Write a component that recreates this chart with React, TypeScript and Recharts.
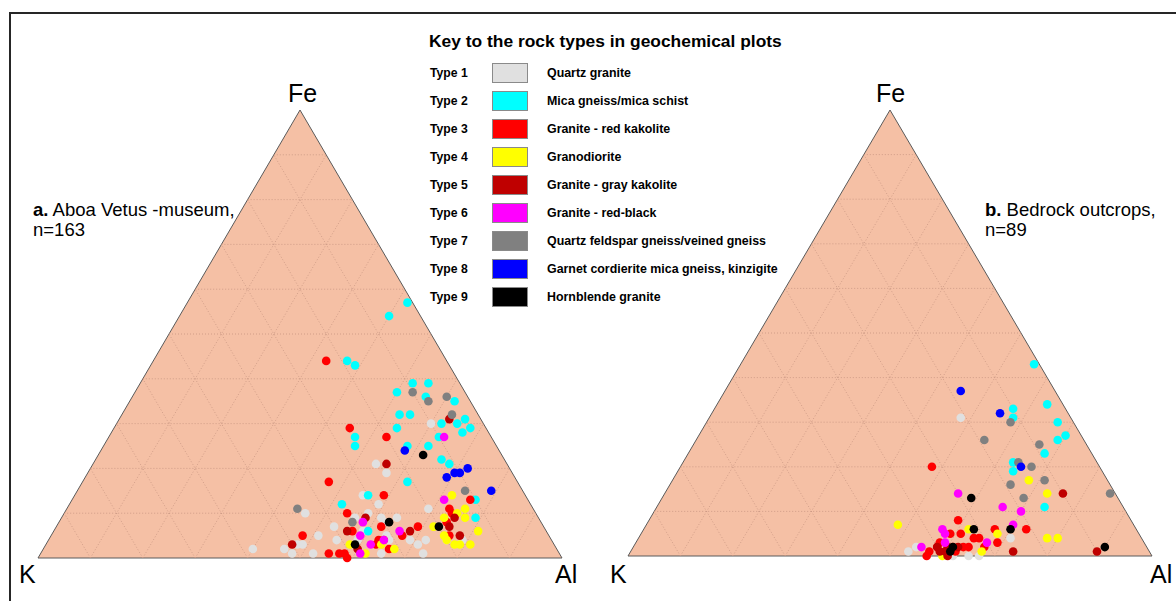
import { ScatterChart, Scatter, XAxis, YAxis, ReferenceArea, ReferenceLine } from 'recharts';

// rock types in key order
const TYPE_LABELS = ['Type 1', 'Type 2', 'Type 3', 'Type 4', 'Type 5', 'Type 6', 'Type 7', 'Type 8', 'Type 9'];
const TYPE_NAMES = [
  'Quartz granite',
  'Mica gneiss/mica schist',
  'Granite - red kakolite',
  'Granodiorite',
  'Granite - gray kakolite',
  'Granite - red-black',
  'Quartz feldspar gneiss/veined gneiss',
  'Garnet cordierite mica gneiss, kinzigite',
  'Hornblende granite',
];
const TYPE_COLORS = ['#e0e0e0', '#00ffff', '#ff0000', '#ffff00', '#bf0000', '#ff00ff', '#808080', '#0000ff', '#000000'];

// samples as [Al %, Fe %] (K = rest)
const A_TYPE1 = [[60, 30], [54, 21], [57, 19], [55, 14], [59, 12], [58, 10], [69, 11], [46, 10], [56, 9], [61, 9], [62, 8], [64, 9], [53, 7], [51, 5], [68, 6], [79, 4], [48, 3], [49, 3], [55, 4], [64, 5], [65, 4], [69, 4], [71, 3], [72, 4], [40, 2], [46, 2], [48, 1], [52, 1], [65, 1], [73, 1], [59, 4], [59, 6], [76, 4]];
const A_TYPE2 = [[42, 57], [40, 54], [37, 44], [39, 43], [52, 39], [55, 39], [50, 37], [56, 36], [62, 35], [53, 32], [55, 32], [54, 29], [62, 30], [65, 30], [66, 31], [68, 29], [67, 28], [47, 27], [48, 25], [63, 27], [58, 25], [62, 25], [66, 22], [68, 21], [62, 17], [56, 14], [77, 13], [52, 12], [79, 9], [60, 6]];
const A_TYPE3 = [[33, 44], [45, 29], [53, 27], [47, 17], [59, 14], [76, 13], [54, 10], [73, 11], [74, 10], [74, 8], [62, 7], [69, 7], [48, 5], [67, 5], [63, 4], [63, 3], [64, 4], [66, 2], [55, 1], [57, 1], [58, 1], [57, 6], [76, 5], [59, 0]];
const A_TYPE4 = [[72, 14], [75, 10], [76, 11], [73, 9], [77, 9], [72, 7], [75, 5], [76, 4], [81, 6], [58, 3], [64, 3], [67, 2], [78, 3], [79, 3], [81, 3], [62, 1]];
const A_TYPE5 = [[63, 31], [56, 21], [75, 9], [58, 9], [56, 6], [68, 6], [75, 7], [78, 5], [47, 3], [60, 2]];
const A_TYPE6 = [[64, 27], [71, 13], [58, 8], [66, 6], [59, 5], [62, 3], [64, 4], [61, 1]];
const A_TYPE7 = [[53, 37], [57, 35], [60, 36], [63, 32], [74, 15], [44, 11], [56, 8]];
const A_TYPE8 = [[58, 24], [69, 18], [70, 19], [71, 19], [72, 20], [79, 15]];
const A_TYPE9 = [[62, 23], [63, 8], [73, 7], [59, 3]];

const B_TYPE1 = [[48, 31], [71, 4], [54, 2], [53, 1], [62, 0], [65, 0], [67, 0]];
const B_TYPE2 = [[56, 43], [57, 33], [58, 31], [63, 34], [67, 30], [70, 27], [69, 26], [68, 23], [63, 21], [64, 19], [74, 11]];
const B_TYPE3 = [[48, 20], [59, 8], [73, 6], [59, 5], [61, 5], [67, 6], [64, 4], [65, 4], [69, 3], [57, 0], [62, 1], [63, 2], [64, 2], [67, 2], [61, 2], [57, 1], [58, 3], [58, 2]];
const B_TYPE4 = [[68, 17], [73, 14], [48, 7], [62, 6], [68, 5], [78, 4], [80, 4], [67, 1], [60, 0]];
const B_TYPE5 = [[76, 14], [73, 1], [89, 1], [58, 2], [59, 1], [60, 1], [60, 2], [61, 0], [62, 2]];
const B_TYPE6 = [[56, 14], [66, 11], [70, 10], [70, 7], [57, 6], [58, 5], [67, 3], [55, 2], [59, 3]];
const B_TYPE7 = [[58, 30], [55, 26], [66, 25], [64, 21], [67, 20], [71, 17], [65, 16], [69, 13], [85, 14]];
const B_TYPE8 = [[45, 37], [55, 32], [65, 20]];
const B_TYPE9 = [[59, 13], [70, 6], [63, 6], [61, 2], [61, 1], [90, 2]];

const SITE_A = [A_TYPE1, A_TYPE2, A_TYPE3, A_TYPE4, A_TYPE5, A_TYPE6, A_TYPE7, A_TYPE8, A_TYPE9];
const SITE_B = [B_TYPE1, B_TYPE2, B_TYPE3, B_TYPE4, B_TYPE5, B_TYPE6, B_TYPE7, B_TYPE8, B_TYPE9];

const FONT = '"Liberation Sans", Arial, sans-serif';
const GRID_STEPS = [0.1, 0.2, 0.3, 0.4, 0.5, 0.6, 0.7, 0.8, 0.9];

// ternary -> plot coords (K left, Al right, Fe top)
const toXY = (pts: number[][]) => pts.map(([al, fe]) => ({ x: (al + fe / 2) / 100, y: fe / 100 }));

const TriangleShape = (props: any) => {
  const { x, y, width, height } = props;
  const pts = `${x},${y + height} ${x + width},${y + height} ${x + width / 2},${y}`;
  return <polygon points={pts} fill="#f5c0a5" stroke="#5a5a5a" strokeWidth={1} />;
};

function Ternary({ site, width, height, margin }: any) {
  const gridSegs: any[] = [];
  GRID_STEPS.forEach(t => {
    gridSegs.push([{ x: t / 2, y: t }, { x: 1 - t / 2, y: t }]);
    gridSegs.push([{ x: t, y: 0 }, { x: t + (1 - t) / 2, y: 1 - t }]);
    gridSegs.push([{ x: 1 - t, y: 0 }, { x: (1 - t) / 2, y: 1 - t }]);
  });
  return (
    <ScatterChart width={width} height={height} margin={margin}>
      <XAxis type="number" dataKey="x" domain={[0, 1]} hide />
      <YAxis type="number" dataKey="y" domain={[0, 1]} hide />
      <ReferenceArea x1={0} x2={1} y1={0} y2={1} shape={TriangleShape} ifOverflow="visible" />
      {gridSegs.map((seg, i) => (
        <ReferenceLine
          key={i}
          segment={seg}
          stroke="#c89682"
          strokeWidth={0.8}
          strokeDasharray="1 2"
          ifOverflow="visible"
        />
      ))}
      {site.map((pts: number[][], i: number) => (
        <Scatter
          key={i}
          name={TYPE_LABELS[i]}
          data={toXY(pts)}
          isAnimationActive={false}
          shape={(p: any) => <circle cx={p.cx} cy={p.cy} r={4.3} fill={TYPE_COLORS[i]} />}
        />
      ))}
    </ScatterChart>
  );
}

const vertexStyle: any = { position: 'absolute', fontFamily: FONT, fontSize: 25, lineHeight: '25px', color: '#000' };
const captionStyle: any = { position: 'absolute', fontFamily: FONT, fontSize: 18.5, lineHeight: '20px', color: '#000', whiteSpace: 'pre' };

export default function App() {
  return (
    <div style={{ position: 'absolute', left: 0, top: 0, width: 1176, height: 601, overflow: 'hidden', background: '#fff' }}>
      <div style={{ position: 'absolute', left: 9, top: 12, width: 1200, height: 620, border: '2px solid #262626' }} />

      <div style={{ position: 'absolute', left: 0, top: 0 }}>
        <Ternary site={SITE_A} width={600} height={601} margin={{ top: 110, right: 38, bottom: 43, left: 38 }} />
      </div>
      <div style={{ position: 'absolute', left: 590, top: 0 }}>
        <Ternary site={SITE_B} width={586} height={601} margin={{ top: 110, right: 24, bottom: 45, left: 38 }} />
      </div>

      <div style={{ ...vertexStyle, left: 288, top: 81 }}>Fe</div>
      <div style={{ ...vertexStyle, left: 19, top: 562 }}>K</div>
      <div style={{ ...vertexStyle, left: 555, top: 562 }}>Al</div>
      <div style={{ ...vertexStyle, left: 876, top: 81 }}>Fe</div>
      <div style={{ ...vertexStyle, left: 610, top: 562 }}>K</div>
      <div style={{ ...vertexStyle, left: 1150, top: 562 }}>Al</div>

      <div style={{ ...captionStyle, left: 33, top: 200 }}>
        <b>a.</b> Aboa Vetus -museum,{'\n'}n=163
      </div>
      <div style={{ ...captionStyle, left: 985, top: 200 }}>
        <b>b.</b> Bedrock outcrops,{'\n'}n=89
      </div>

      <div style={{ position: 'absolute', left: 429, top: 33, fontFamily: FONT, fontSize: 17.4, lineHeight: '17px', fontWeight: 'bold' }}>
        Key to the rock types in geochemical plots
      </div>
      {TYPE_LABELS.map((label, i) => (
        <div key={label} style={{ position: 'absolute', left: 430, top: 59 + i * 28, height: 28, width: 380, fontFamily: FONT, fontWeight: 'bold' }}>
          <div style={{ position: 'absolute', left: 0, top: 7, fontSize: 12.2, lineHeight: '14px' }}>{label}</div>
          <div style={{ position: 'absolute', left: 62, top: 4, width: 36, height: 20, boxSizing: 'border-box', border: '1px solid #8a8a8a', background: TYPE_COLORS[i] }} />
          <div style={{ position: 'absolute', left: 117, top: 7, fontSize: 12.4, lineHeight: '14px' }}>{TYPE_NAMES[i]}</div>
        </div>
      ))}
    </div>
  );
}
